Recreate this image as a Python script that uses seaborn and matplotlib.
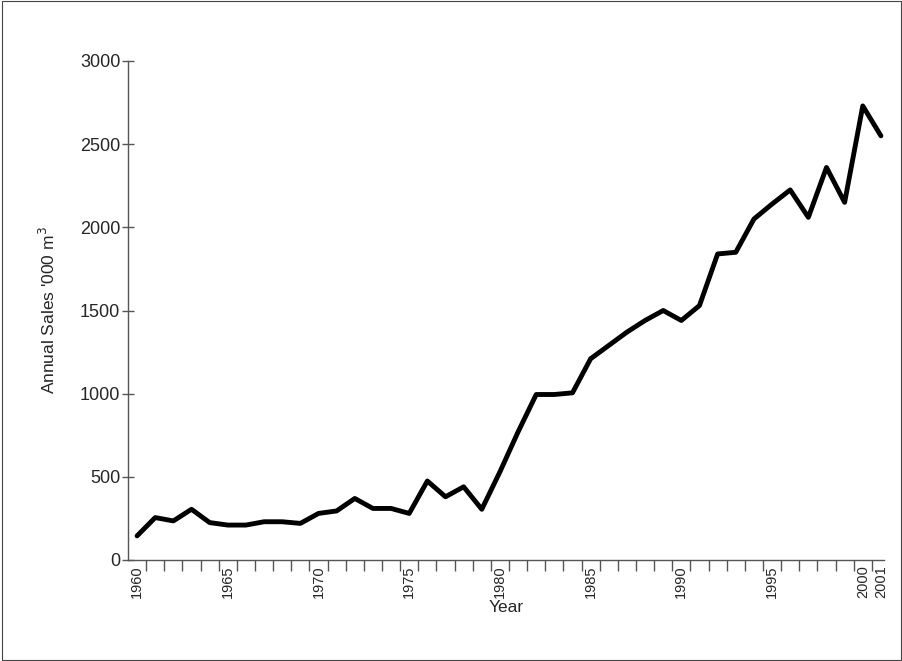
import matplotlib
matplotlib.use('Agg')
import matplotlib.pyplot as plt
import seaborn as sns
import pandas as pd

years = list(range(1960, 2002))
sales = [145, 255, 235, 305, 225, 210, 210, 230, 230, 220,
         280, 295, 370, 310, 310, 280, 475, 380, 440, 305,
         530, 770, 995, 995, 1005, 1210, 1290, 1370, 1440, 1500,
         1440, 1530, 1840, 1850, 2050, 2140, 2225, 2060, 2360, 2150,
         2730, 2550]
labelled_years = [1960, 1965, 1970, 1975, 1980, 1985, 1990, 1995, 2000, 2001]

df = pd.DataFrame({'year': years, 'sales': sales})

sns.set_style('white')
plt.rcParams['font.family'] = ['Liberation Sans', 'DejaVu Sans']

fig = plt.figure(figsize=(9.03, 6.61), dpi=100)
ax = fig.add_axes([128 / 903, 1 - 560 / 661, (884 - 128) / 903, (560 - 61) / 661])

sns.lineplot(data=df, x='year', y='sales', color='black', linewidth=3.5, ax=ax)

ax.set_xlim(1959.5, 2001.17)
ax.set_ylim(0, 3000)
ax.set_yticks([0, 500, 1000, 1500, 2000, 2500, 3000])
# labels on the years, tick marks between them
ax.set_xticks(labelled_years)
ax.set_xticklabels([str(y) for y in labelled_years], rotation=90, fontsize=10.5)
ax.set_xticks([y + 0.5 for y in years[:-1]], minor=True)
ax.tick_params(axis='x', which='major', length=0, pad=4)
ax.tick_params(axis='x', which='minor', direction='out', length=8, width=1,
               color='#555555', bottom=True)
ax.tick_params(axis='y', direction='inout', length=9, width=1, color='#555555',
               labelsize=13, left=True, pad=1)

for s in ['top', 'right']:
    ax.spines[s].set_visible(False)
for s in ['left', 'bottom']:
    ax.spines[s].set_color('#555555')
    ax.spines[s].set_linewidth(1)

ax.set_xlabel('Year', fontsize=12.5, labelpad=1)
ax.set_ylabel("Annual Sales '000 m$^3$", fontsize=12.5, labelpad=16)

fig.patches.append(plt.Rectangle((0.002, 0.002), 0.996, 0.996, transform=fig.transFigure,
                                 fill=False, edgecolor='#444444', linewidth=0.8))

fig.savefig('out.png', dpi=100)
